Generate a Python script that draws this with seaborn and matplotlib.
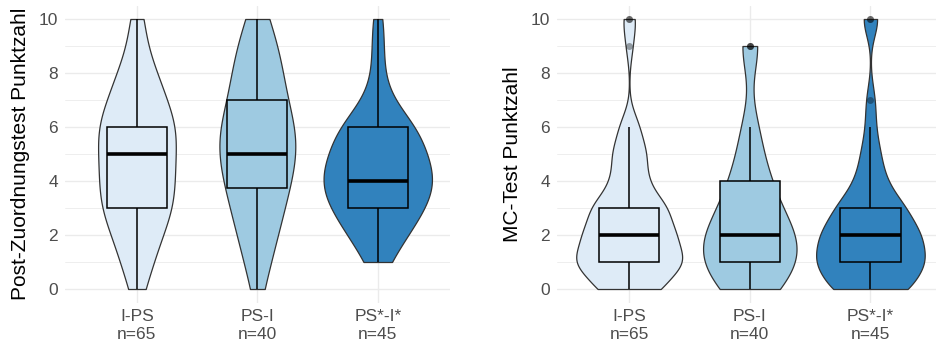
import numpy as np
import pandas as pd
import matplotlib
matplotlib.use("Agg")
import matplotlib.pyplot as plt
import seaborn as sns

# ---------------- Data: number of students per score ----------------
scores = list(range(11))
groups = ["I-PS", "PS-I", "PS*-I*"]
group_labels = ["I-PS\nn=65", "PS-I\nn=40", "PS*-I*\nn=45"]
colors = ["#DEEBF7", "#9ECAE1", "#3182BD"]

# Post-Zuordnungstest (scores 0..10)
post_ips = [2, 4, 6, 9, 9, 9, 10, 7, 5, 2, 2]
post_psi = [1, 2, 3, 4, 5, 6, 6, 4, 4, 3, 2]
post_psx = [0, 2, 5, 8, 10, 8, 7, 2, 1, 1, 1]

# MC-Test (scores 0..10)
mc_ips = [9, 16, 13, 11, 5, 5, 3, 0, 0, 1, 2]
mc_psi = [6, 9, 9, 5, 4, 2, 2, 0, 0, 3, 0]
mc_psx = [8, 11, 10, 7, 3, 2, 1, 1, 0, 0, 2]


def make_df(counts_per_group):
    rows = []
    for g, counts in zip(groups, counts_per_group):
        for s in np.repeat(scores, counts):
            rows.append({"group": g, "score": s})
    return pd.DataFrame(rows)


post_df = make_df([post_ips, post_psi, post_psx])
mc_df = make_df([mc_ips, mc_psi, mc_psx])


# R's bw.nrd0 bandwidth (as ggplot uses), expressed as a kde factor
def nrd0(kde):
    x = np.asarray(kde.dataset).ravel()
    sd = x.std(ddof=1)
    q75, q25 = np.percentile(x, [75, 25])
    lo = min(sd, (q75 - q25) / 1.34)
    if lo == 0:
        lo = sd
    return 0.9 * lo * x.size ** -0.2 / sd


sns.set_style("white")
plt.rcParams["font.family"] = ["Liberation Sans", "DejaVu Sans"]

fig = plt.figure(figsize=(9.36, 3.43), dpi=100)
ax1 = fig.add_axes([64.7 / 936, 40.5 / 343, 385.3 / 936, 297 / 343])
ax2 = fig.add_axes([556.8 / 936, 40.5 / 343, 386 / 936, 297 / 343])


def draw(ax, df, ylabel):
    sns.violinplot(data=df, x="group", y="score", hue="group", order=groups,
                   hue_order=groups, palette=colors, saturation=1, cut=0,
                   inner=None, density_norm="area", common_norm=True,
                   width=0.9, gridsize=512, bw_method=nrd0, linewidth=0.9,
                   linecolor="#333333", legend=False, ax=ax)
    sns.boxplot(data=df, x="group", y="score", hue="group", order=groups,
                hue_order=groups, palette=colors, saturation=1, width=0.5,
                linecolor="black", linewidth=1.1, whis=1.5,
                medianprops=dict(linewidth=2.6),
                capprops=dict(visible=False),
                flierprops=dict(marker="o", markerfacecolor="black",
                                markeredgecolor="none", alpha=0.35,
                                markersize=5),
                legend=False, ax=ax)
    ax.set_xlim(-0.6, 2.6)
    ax.set_ylim(-0.5, 10.5)
    ax.set_yticks([0, 2, 4, 6, 8, 10])
    ax.set_yticks([1, 3, 5, 7, 9], minor=True)
    ax.set_xticks(range(3))
    ax.set_xticklabels(group_labels)
    ax.set_axisbelow(True)
    ax.grid(which="major", color="#EBEBEB", linewidth=1.0)
    ax.grid(which="minor", axis="y", color="#EBEBEB", linewidth=0.6)
    ax.tick_params(which="both", length=0, labelsize=12.5, colors="#4D4D4D", pad=5)
    for sp in ax.spines.values():
        sp.set_visible(False)
    ax.set_xlabel("")
    ax.set_ylabel(ylabel, fontsize=15, color="black", labelpad=6)


draw(ax1, post_df, "Post-Zuordnungstest Punktzahl")
draw(ax2, mc_df, "MC-Test Punktzahl")

fig.savefig("out.png", dpi=100)
